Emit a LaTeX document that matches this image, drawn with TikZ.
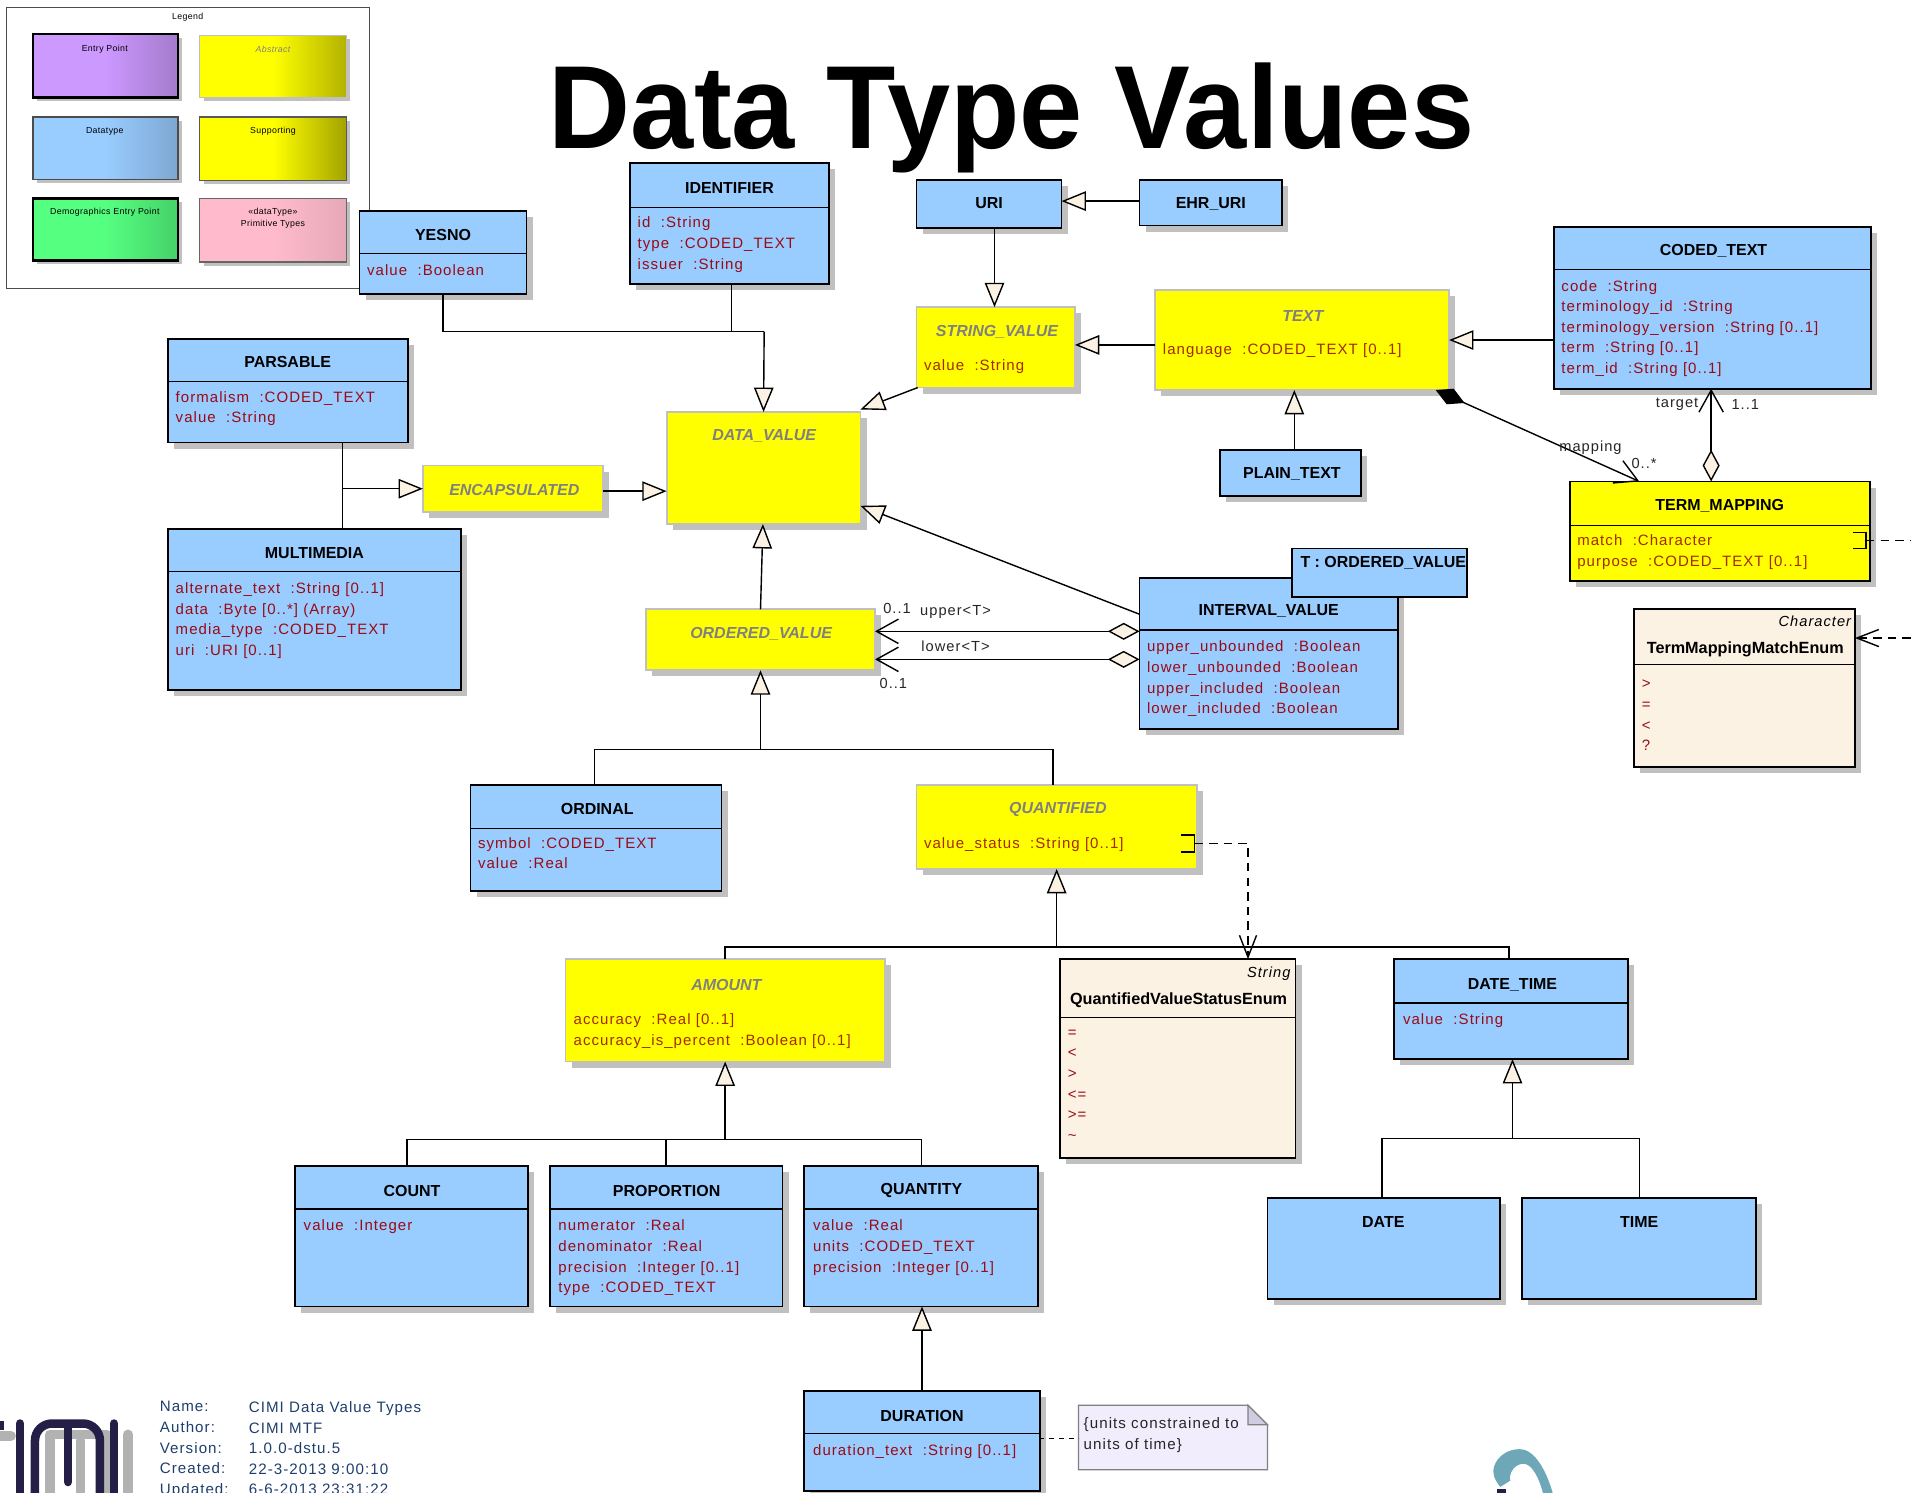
\documentclass[tikz,border=0pt]{standalone}
\usepackage{fontspec}
\usepackage{graphicx}
\setmainfont{Liberation Sans}
\newfontfamily\attrf[LetterSpace=7]{Liberation Sans}
\newfontfamily\legf[LetterSpace=4]{Liberation Sans}
\usetikzlibrary{arrows.meta,calc}
\definecolor{cblue}{HTML}{99CCFF}
\definecolor{cyel}{HTML}{FFFF00}
\definecolor{cream}{HTML}{FBF2E4}
\definecolor{dred}{HTML}{9B0A14}
\definecolor{yred}{HTML}{A52A00}
\definecolor{shgray}{HTML}{C0C0C0}
\definecolor{absgray}{HTML}{808080}
\definecolor{navy}{HTML}{1E3F6E}
\definecolor{logon}{HTML}{231F47}
\definecolor{cpur}{HTML}{CC99FF}
\definecolor{cgrn}{HTML}{55FF80}
\definecolor{cpink}{HTML}{FFBBCC}
\definecolor{notef}{HTML}{F1EDFD}
\definecolor{foldf}{HTML}{CFCCDF}
\definecolor{ringc}{HTML}{6EA8B8}
\tikzset{
 cls/.style={draw=black,line width=1.5pt,inner sep=0,outer sep=0,anchor=north west},
 blue/.style={fill=cblue},
 yel/.style={fill=cyel},
 abs/.style={fill=cyel,draw=shgray},
 enumb/.style={fill=cream},
 seppath/.style={line width=1.1pt},
 ttl/.style={font=\fontsize{13.1}{15}\selectfont\bfseries,inner sep=0,anchor=center,yshift=-1pt},
 ettl/.style={ttl,font=\fontsize{13.3}{15}\selectfont\bfseries},
 absttl/.style={font=\fontsize{13.1}{15}\selectfont\bfseries\itshape,text=absgray,inner sep=0,anchor=center,yshift=-1pt},
 attr/.style={font=\fontsize{12.3}{16.9}\attrf,text=dred,align=left,inner sep=0,anchor=north west,yshift=-2.8pt},
 yattr/.style={attr,text=yred},
 lbl/.style={font=\fontsize{12}{14}\attrf,text=black!85,inner sep=0,anchor=center},
 leg/.style={font=\fontsize{7.2}{9.5}\legf,inner sep=0,anchor=center,align=center,yshift=-1pt},
 foot/.style={font=\fontsize{12.4}{16.9}\attrf,text=navy,align=left,inner sep=0,anchor=north west,yshift=-2.8pt},
 conn/.style={line width=1.15pt,draw=black},
 gen/.style={conn,-{Triangle[length=20pt,width=16pt,fill=cream,line width=1.15pt]}},
 dep/.style={line width=1.15pt,dash pattern=on 7pt off 5pt,-{Straight Barb[length=18pt,width=14pt,line width=1.15pt]}},
 dsh/.style={line width=1.15pt,dash pattern=on 7pt off 5pt},
 dsn/.style={line width=1pt,dash pattern=on 4pt off 4pt},
 aggr/.style={conn,{Diamond[length=26pt,width=14pt,fill=cream,line width=1.15pt]}-{Straight Barb[length=18pt,width=20pt,line width=1.15pt]}},
 comp/.style={conn,{Diamond[length=26pt,width=14pt,fill=black]}-{Straight Barb[length=18pt,width=20pt,line width=1.15pt]}},
 lg/.style={anchor=north west,inner sep=0,outer sep=0},
}
\newcommand{\cbox}[6]{%
 \pgfmathsetmacro\bw{#4-#2}\pgfmathsetmacro\bh{#5-#3}%
 \fill[shgray] (#2+5,#3+5) rectangle (#4+5,#5+5);%
 \node[cls,#6,minimum width=\bw pt,minimum height=\bh pt] (#1) at (#2,#3) {};}
\newcommand{\csep}[2]{\draw[seppath] (#1.west |- 0,#2) -- (#1.east |- 0,#2);}
\newcommand{\lbox}[8]{%
 \fill[shgray] (#2+3,#3+3) rectangle (#4+3,#5+3);%
 \pgfmathsetmacro\bw{#4-#2}\pgfmathsetmacro\bh{#5-#3}%
 \node[lg,#6,left color=#7,right color=#8,middle color=#7,minimum width=\bw pt,minimum height=\bh pt] (#1) at (#2,#3) {};}
\begin{document}
\begin{tikzpicture}[x=1pt,y=-1pt]
\useasboundingbox (0,0) rectangle (1568,1224.2);
\clip (0,0) rectangle (1568,1224.2);
\fill[white] (0,0) rectangle (1568,1224.2);
% Legend
\node[lg,draw=black!70,line width=0.9pt,fill=white,minimum width=298pt,minimum height=231pt] (legend) at (5,6) {};
\node[leg] (legt) at (154,13.5) {Legend};
\lbox{l1}{27}{28}{146}{80}{draw=black,line width=1.7pt}{cpur}{cpur!80!black}
\lbox{l2}{164}{29}{284}{80}{draw=shgray,line width=1pt}{cyel}{cyel!70!black}
\lbox{l3}{27}{96}{146}{147}{draw=black!70,line width=1pt}{cblue}{cblue!82!black}
\lbox{l4}{164}{96}{284}{148}{draw=black!65,line width=1pt}{cyel}{cyel!64!black}
\lbox{l5}{27}{163}{146}{214}{draw=black,line width=2.2pt}{cgrn}{cgrn!82!black}
\lbox{l6}{164}{163}{284}{215}{draw=black!60,line width=1pt}{cpink}{cpink!90!black}
\node[leg] (l1t) at (86,39.5) {Entry Point};
\node[leg,text=absgray,font=\fontsize{7.2}{9.5}\legf\itshape] (l2t) at (224,39.5) {Abstract};
\node[leg] (l3t) at (86,106.5) {Datatype};
\node[leg] (l4t) at (224,107) {Supporting};
\node[leg] (l5t) at (86,173.5) {Demographics Entry Point};
\node[leg] (l6t) at (224,178) {«dataType»\\Primitive Types};
% Title
\node[inner sep=0,anchor=base,font=\fontsize{97}{100}\selectfont\bfseries] (title) at (830,122) {\scalebox{0.96}[1]{Data Type Values}};
% Boxes
\cbox{yesno}{295}{173}{432}{241}{blue}
\csep{yesno}{208}
\node[ttl] (yesnot) at (363.5,192) {YESNO};
\node[attr] (yesnoa) at (301,214) {value\ \ :Boolean};

\cbox{ident}{517}{134}{680}{233}{blue}
\csep{ident}{170}
\node[ttl] (identt) at (598.5,153) {IDENTIFIER};
\node[attr] (identa) at (523,175) {id\ \ :String\\type\ \ :CODED\_TEXT\\issuer\ \ :String};

\cbox{uri}{752}{148}{871}{187}{blue}
\node[ttl] (urit) at (811.5,166) {URI};
\cbox{ehr}{935}{148}{1052}{185}{blue}
\node[ttl] (ehrt) at (993.5,166) {EHR\_URI};

\cbox{strv}{752}{252}{882}{318}{abs}
\node[absttl] (strvt) at (818,271) {STRING\_VALUE};
\node[yattr] (strva) at (758,292) {value\ \ :String};

\cbox{text}{948}{238}{1189}{320}{abs}
\node[absttl] (textt) at (1069,258) {TEXT};
\node[yattr] (texta) at (954,279) {language\ \ :CODED\_TEXT [0..1]};

\cbox{coded}{1275}{186}{1535}{319}{blue}
\csep{coded}{221}
\node[ttl] (codedt) at (1406,205) {CODED\_TEXT};
\node[attr] (codeda) at (1281,227) {code\ \ :String\\terminology\_id\ \ :String\\terminology\_version\ \ :String [0..1]\\term\ \ :String [0..1]\\term\_id\ \ :String [0..1]};

\cbox{plain}{1001}{369}{1117}{407}{blue}
\node[ttl] (plaint) at (1060,388) {PLAIN\_TEXT};

\cbox{pars}{138}{278}{335}{363}{blue}
\csep{pars}{313}
\node[ttl] (parst) at (236,296) {PARSABLE};
\node[attr] (parsa) at (144,318) {formalism\ \ :CODED\_TEXT\\value\ \ :String};

\cbox{encap}{347}{382}{495}{420}{abs}
\node[absttl] (encapt) at (422,401) {ENCAPSULATED};

\cbox{data}{547}{338}{706}{430}{abs}
\node[absttl] (datat) at (627,357) {DATA\_VALUE};

\cbox{multi}{138}{434}{378}{566}{blue}
\csep{multi}{469}
\node[ttl] (multit) at (258,453) {MULTIMEDIA};
\node[attr] (multia) at (144,475) {alternate\_text\ \ :String [0..1]\\data\ \ :Byte [0..*] (Array)\\media\_type\ \ :CODED\_TEXT\\uri\ \ :URI [0..1]};

\cbox{ordv}{530}{500}{718}{550}{abs}
\node[absttl] (ordvt) at (624.5,519) {ORDERED\_VALUE};

\cbox{intv}{935}{474}{1147}{598}{blue}
\csep{intv}{517}
\node[ttl] (intvt) at (1041,500.5) {INTERVAL\_VALUE};
\node[attr] (intva) at (941,523) {upper\_unbounded\ \ :Boolean\\lower\_unbounded\ \ :Boolean\\upper\_included\ \ :Boolean\\lower\_included\ \ :Boolean};
\node[cls,fill=cblue,minimum width=144pt,minimum height=40pt] (tparam) at (1060,450) {};
\node[ttl] (tparamt) at (1135,461) {T : ORDERED\_VALUE};

\cbox{term}{1288}{395}{1534}{477}{yel}
\csep{term}{431}
\node[ttl] (termt) at (1411,414) {TERM\_MAPPING};
\node[yattr] (terma) at (1294,436) {match\ \ :Character\\purpose\ \ :CODED\_TEXT [0..1]};
\draw[seppath] (1520,437) -- (1531,437) -- (1531,450) -- (1520,450);

\cbox{tmenum}{1341}{500}{1522}{629}{enumb}
\csep{tmenum}{545}
\node[inner sep=0,anchor=east,font=\fontsize{12}{14}\attrf\itshape] (tmenums) at (1519,510) {Character};
\node[ettl] (tmenumt) at (1432,532) {TermMappingMatchEnum};
\node[attr] (tmenuma) at (1347,555) {>\\=\\<\\?};

\cbox{ordinal}{386}{644}{592}{731}{blue}
\csep{ordinal}{680}
\node[ttl] (ordinalt) at (490,663) {ORDINAL};
\node[attr] (ordinala) at (392,684) {symbol\ \ :CODED\_TEXT\\value\ \ :Real};

\cbox{quant}{752}{644}{982}{713}{abs}
\node[absttl] (quantt) at (868,663) {QUANTIFIED};
\node[yattr] (quanta) at (758,684) {value\_status\ \ :String [0..1]};
\draw[seppath] (969,685) -- (980,685) -- (980,699) -- (969,699);

\cbox{amount}{464}{787}{726}{871}{abs}
\node[absttl] (amountt) at (596,807) {AMOUNT};
\node[yattr] (amounta) at (470.5,829) {accuracy\ \ :Real [0..1]\\accuracy\_is\_percent\ \ :Boolean [0..1]};

\cbox{qenum}{870}{787}{1063}{950}{enumb}
\csep{qenum}{835}
\node[inner sep=0,anchor=east,font=\fontsize{12}{14}\attrf\itshape] (qenums) at (1059,799) {String};
\node[ettl] (qenumt) at (967,820) {QuantifiedValueStatusEnum};
\node[attr] (qenuma) at (876,842) {=\\<\\>\\<=\\>=\\\char`\~};

\cbox{dt}{1144}{787}{1336}{869}{blue}
\csep{dt}{823}
\node[ttl] (dtt) at (1241,807) {DATE\_TIME};
\node[attr] (dta) at (1151,829) {value\ \ :String};

\cbox{count}{242}{957}{433}{1072}{blue}
\csep{count}{992}
\node[ttl] (countt) at (338,976) {COUNT};
\node[attr] (counta) at (249,998) {value\ \ :Integer};

\cbox{prop}{451}{957}{642}{1072}{blue}
\csep{prop}{992}
\node[ttl] (propt) at (547,976) {PROPORTION};
\node[attr] (propa) at (458,998) {numerator\ \ :Real\\denominator\ \ :Real\\precision\ \ :Integer [0..1]\\type\ \ :CODED\_TEXT};

\cbox{qty}{660}{957}{852}{1072}{blue}
\csep{qty}{992}
\node[ttl] (qtyt) at (756,976) {QUANTITY};
\node[attr] (qtya) at (667,998) {value\ \ :Real\\units\ \ :CODED\_TEXT\\precision\ \ :Integer [0..1]};

\cbox{date}{1040}{983}{1231}{1066}{blue}
\node[ttl] (datet) at (1135,1002) {DATE};
\cbox{time}{1249}{983}{1441}{1066}{blue}
\node[ttl] (timet) at (1345,1002) {TIME};

\cbox{dur}{660}{1141}{853}{1223.5}{blue}
\csep{dur}{1176}
\node[ttl] (durt) at (756.5,1160.5) {DURATION};
\node[attr] (dura) at (667,1182) {duration\_text\ \ :String [0..1]};

% Note
\node[lg,minimum width=155pt,minimum height=53pt] (note) at (885,1153) {};
\draw[draw=black!50,line width=1pt,fill=notef] (note.south west) -- (note.north west) -- ([xshift=-16pt]note.north east) -- ([yshift=-16pt]note.north east) -- (note.south east) -- cycle;
\draw[draw=black!50,line width=1pt,fill=foldf] ([xshift=-16pt]note.north east) -- ([yshift=-16pt]note.north east) -- ([xshift=-16pt,yshift=-16pt]note.north east) -- cycle;
\node[inner sep=0,anchor=north west,align=left,font=\fontsize{12.4}{16.9}\attrf,text=black!85] (notet) at (889,1163) {\{units constrained to\\units of time\}};
% Connectors
\coordinate (j1) at (627,272);
\draw[conn] (yesno.south) |- (j1);
\draw[conn] (ident.south -| 600,0) -- (600,272);
\draw[gen] (j1) -- (data.north);
\draw[gen] (uri.south -| 816,0) -- (strv.north -| 816,0);
\draw[gen] (ehr.west |- 0,165) -- (uri.east |- 0,165);
\draw[gen] (strv.south west) ++(1,0) -- ([yshift=2pt]data.north east);
\draw[gen] (text.west |- 0,283) -- (strv.east |- 0,283);
\draw[gen] (coded.west |- 0,279) -- (text.east |- 0,279);
\draw[gen] (plain.north -| 1062,0) -- (text.south -| 1062,0);
\draw[comp] (1178,320) -- (1345,395);
\draw[aggr] (term.north -| 1404,0) -- (coded.south -| 1404,0);
\node[lbl] (maplbl) at (1305,367) {mapping};
\node[lbl] (mapm) at (1349,380) {0..*};
\node[lbl] (tglbl) at (1376,332) {target};
\node[lbl] (tgm) at (1432,332) {1..1};
\coordinate (j2) at (281,401);
\draw[conn] (pars.south -| j2) -- (multi.north -| j2);
\draw[gen] (j2) -- (encap.west |- j2);
\draw[gen] (encap.east |- 0,403) -- (data.west |- 0,403);
\draw[gen] (ordv.north -| 624,0) -- (data.south -| 626,0);
\draw[gen] (intv.west |- 0,504) -- (data.east |- 0,415);
\draw[aggr] (intv.west |- 0,518) -- (ordv.east |- 0,518);
\draw[aggr] (intv.west |- 0,541) -- (ordv.east |- 0,541);
\node[lbl] (um) at (736,499) {0..1};
\node[lbl] (ulbl) at (784,502) {upper<T>};
\node[lbl] (llbl) at (784,530) {lower<T>};
\node[lbl] (lm) at (733,561) {0..1};
\coordinate (j3) at (624,615);
\draw[conn] (ordinal.north -| 488,0) |- (j3) -| (quant.north -| 864,0);
\draw[gen] (j3) -- (ordv.south -| j3);
\coordinate (j4) at (867,777);
\draw[conn] (amount.north -| 595,0) |- (j4) -| (dt.north -| 1238,0);
\draw[gen] (j4) -- (quant.south -| j4);
\draw[dep] (980,692) -| (qenum.north -| 1024,0);
\coordinate (j5) at (595,935);
\draw[conn] (count.north -| 334,0) |- (j5) -| (qty.north -| 756,0);
\draw[conn] (prop.north) -- (prop.north |- j5);
\draw[gen] (j5) -- (amount.south -| j5);
\coordinate (j6) at (1241,934);
\draw[conn] (date.north -| 1134,0) |- (j6) -| (time.north -| 1345,0);
\draw[gen] (j6) -- (dt.south -| j6);
\draw[gen] (dur.north) -- (qty.south -| dur.north);
\draw[dsn] (dur.east |- 0,1180) -- (note.west |- 0,1180);
\coordinate (edge1) at (1568,443.5);
\coordinate (edge2) at (1568,523.5);
\draw[dsh] (1531,443.5) -- (edge1);
\draw[dep] (edge2) -- (tmenum.east |- edge2);
% Footer
\node[foot] (foot1) at (131,1147) {Name:\\Author:\\Version:\\Created:\\Updated:};
\node[foot] (foot2) at (204,1147) {CIMI Data Value Types\\CIMI MTF\\1.0.0-dstu.5\\22-3-2013 9:00:10\\6-6-2013 23:31:22};
% CIMI logo
\begin{scope}[line cap=round,line width=7pt]
\draw[black!30,line width=8pt] (-5,1178) -- (9,1178);
\draw[black!30,line width=8pt,line join=round] (41,1240) -- (41,1177) -- (88,1177) -- (88,1240);
\draw[black!30,line width=8pt] (66,1182) -- (66,1228);
\draw[black!30,line width=8pt] (105,1177) -- (105,1240);
\draw[logon,line join=round] (28.7,1240) -- (28.7,1182) arc[start angle=180,end angle=270,radius=14] -- (68,1168) arc[start angle=270,end angle=360,radius=14] -- (82,1240);
\draw[logon] (55.8,1172) -- (55.8,1216);
\draw[logon] (16.4,1168) -- (16.4,1240);
\draw[logon] (93.6,1168) -- (93.6,1240);
\fill[logon] (-3,1166) rectangle (3,1173);
\end{scope}
% Ring logo
\fill[ringc] (1231,1220) .. controls (1226,1214) and (1224,1208) .. (1226,1203) .. controls (1229,1194) and (1238,1189) .. (1247,1189) .. controls (1258,1189) and (1268,1204) .. (1274,1225) -- (1266,1225) .. controls (1263,1213) and (1257,1201) .. (1250,1201) .. controls (1244,1201) and (1238,1207) .. (1239,1215) -- cycle;
\fill[logon] (1228,1222) rectangle (1236,1225);
\end{tikzpicture}
\end{document}
